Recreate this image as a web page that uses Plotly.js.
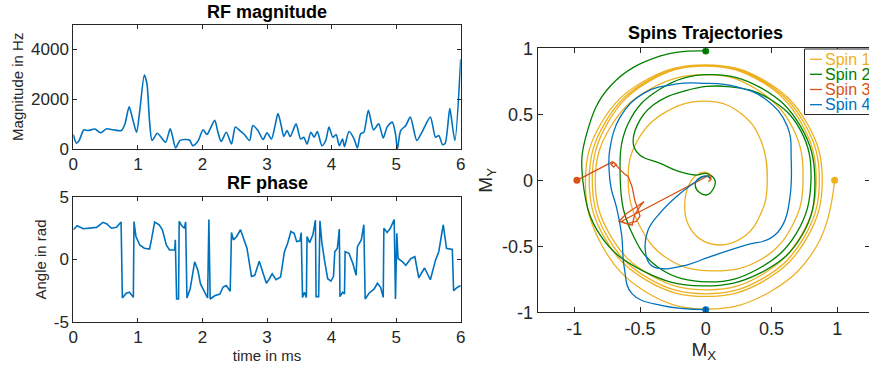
<!DOCTYPE html>
<html>
<head>
<meta charset="utf-8">
<script src="https://cdn.plot.ly/plotly-3.0.1.min.js"></script>
<style>
  html, body { margin: 0; padding: 0; overflow: hidden; background: #fff; }
  #chart { width: 900px; height: 371px; }
</style>
</head>
<body>
<div id="chart"></div>
<script>
// ---- RF pulse: magnitude (Hz) over time (ms) ----
const magT = [0, 0.05, 0.09, 0.165, 0.23, 0.335, 0.42, 0.515, 0.62, 0.745, 0.8, 0.865, 0.925, 0.98, 1.03, 1.1, 1.14, 1.18, 1.22, 1.3,
  1.36, 1.43, 1.5, 1.54, 1.585, 1.65, 1.725, 1.8, 1.85, 1.93, 2.01, 2.07, 2.12, 2.19, 2.24, 2.29, 2.37, 2.45, 2.51, 2.58,
  2.65, 2.73, 2.78, 2.86, 2.94, 3.0, 3.07, 3.12, 3.17, 3.22, 3.26, 3.31, 3.36, 3.45, 3.52, 3.57, 3.62, 3.68, 3.73, 3.78,
  3.85, 3.91, 3.96, 4.02, 4.07, 4.12, 4.17, 4.2, 4.27, 4.35, 4.4, 4.45, 4.5, 4.57, 4.65, 4.73, 4.8, 4.86, 4.94, 4.99,
  5.02, 5.07, 5.15, 5.22, 5.32, 5.4, 5.53, 5.61, 5.66, 5.72, 5.76, 5.83, 5.85, 5.91, 6.0];
const magHz = [580, 230, 340, 770, 740, 800, 650, 810, 770, 740, 1010, 1690, 1150, 675, 1550, 2970, 2630, 1150, 340, 630,
  470, 270, 810, 470, 40, 340, 380, 360, 135, 310, 770, 580, 810, 1150, 675, 300, 675, 200, 880, 740,
  580, 340, 945, 740, 380, 650, 400, 880, 1420, 945, 500, 740, 500, 1010, 400, 470, 200, 675, 470, 700,
  135, 340, 880, 470, 580, 135, 400, 95, 700, 400, 40, 610, 675, 1550, 770, 1010, 445, 880, 1080, 610,
  0, 740, 945, 1280, 340, 675, 1280, 470, 540, 175, 230, 1620, 1350, 340, 3600];

// ---- RF pulse: phase (rad) over time (ms) ----
const phT = [0, 0.06, 0.155, 0.26, 0.36, 0.46, 0.52, 0.59, 0.67, 0.74, 0.76, 0.82, 0.87, 0.93, 0.94, 0.97, 1.03, 1.1, 1.18, 1.21,
  1.26, 1.33, 1.38, 1.44, 1.49, 1.57, 1.58, 1.6, 1.63, 1.64, 1.68, 1.72, 1.74, 1.76, 1.81, 1.88, 1.93, 1.97, 2.03, 2.08,
  2.1, 2.12, 2.19, 2.27, 2.32, 2.37, 2.43, 2.45, 2.48, 2.53, 2.59, 2.65, 2.69, 2.76, 2.81, 2.88, 2.94, 2.99, 3.03, 3.08,
  3.14, 3.21, 3.27, 3.32, 3.37, 3.42, 3.46, 3.51, 3.53, 3.55, 3.58, 3.61, 3.62, 3.66, 3.71, 3.75, 3.76, 3.8, 3.82, 3.85,
  3.89, 3.94, 3.99, 4.03, 4.05, 4.09, 4.12, 4.13, 4.17, 4.2, 4.21, 4.27, 4.33, 4.38, 4.4, 4.46, 4.5, 4.52, 4.58, 4.66,
  4.71, 4.76, 4.8, 4.81, 4.86, 4.91, 4.97, 4.99, 5.01, 5.03, 5.1, 5.15, 5.23, 5.29, 5.35, 5.44, 5.53, 5.61, 5.66, 5.73,
  5.78, 5.87, 5.89, 5.95, 6.0];
const phRad = [2.38, 2.7, 2.46, 2.5, 2.57, 2.97, 2.84, 2.5, 2.57, 3.0, -3.08, -2.7, -2.62, -3.03, 3.03, 1.84, 1.16, 0.9, 0.84, 1.57,
  3.0, 2.78, 2.38, 1.16, 0.76, 0.76, 1.57, -3.16, -3.16, 3.05, 2.7, 2.5, 3.0, -3.08, -2.35, -0.19, -0.86, -1.95, -2.5, -3.08,
  3.19, -3.16, -2.9, -2.76, -2.2, -2.08, -2.54, 2.16, 1.57, 1.84, 2.38, 1.57, 0.9, -1.35, -1.27, -0.14, -1.14, -1.9, -1.6, -1.14,
  -1.62, -1.4, 0.62, 1.3, 2.24, 2.1, 1.43, 1.49, 2.16, -3.03, -2.62, -3.03, 1.84, 1.35, 1.97, 3.14, -2.97, -2.97, 3.1, 1.35,
  -0.05, -1.54, -1.73, -1.35, 0.62, 0.9, 2.43, -2.97, -2.62, -2.76, 0.62, 0.49, -0.32, -1.27, 1.03, 1.57, 2.78, -3.16, -2.7, -2.35,
  -1.9, -2.22, -3.03, 2.5, 2.16, 2.5, 3.19, -3.16, 2.1, 0.08, -0.19, -0.46, 0.08, 0.22, -1.46, -0.68, -1.62, -0.05, 0.62, 2.78,
  0.9, 0.81, -2.49, -2.22, -2.08];

// ---- Transverse magnetisation paths (Mx, My) of the four spins ----
// Spin 1: clockwise spiral starting on +Mx
const spin1X = [
  0.98, 0.849, 0.49, 0.0, -0.458, -0.792, -0.915, -0.792, -0.458, 0.0, 0.443, 0.767,
  0.886, 0.767, 0.443, 0.0, -0.443, -0.767, -0.886, -0.767, -0.443, 0.0, 0.432, 0.748,
  0.864, 0.748, 0.432, 0.0, -0.432, -0.747, -0.863, -0.747, -0.432, 0.0, 0.42, 0.727,
  0.84, 0.727, 0.42, 0.02, -0.42, -0.727, -0.84, -0.727, -0.42, 0.02, 0.38, 0.66,
  0.74, 0.66, 0.42, 0.05, -0.28, -0.5, -0.59, -0.52, -0.3, 0.0, 0.25, 0.42,
  0.466, 0.42, 0.3, 0.11, -0.05, -0.14, -0.16, -0.13, -0.07, 0.0, 0.04, 0.03];
const spin1Y = [
  0.0, -0.488, -0.844, -0.975, -0.844, -0.488, 0.0, 0.438, 0.758, 0.875, 0.758, 0.438,
  0.0, -0.44, -0.762, -0.88, -0.762, -0.44, 0.0, 0.435, 0.753, 0.87, 0.753, 0.435,
  0.0, -0.43, -0.745, -0.86, -0.745, -0.43, 0.0, 0.433, 0.749, 0.865, 0.749, 0.433,
  0.0, -0.415, -0.719, -0.83, -0.719, -0.415, 0.0, 0.4, 0.693, 0.8, 0.693, 0.4,
  0.0, -0.34, -0.6, -0.686, -0.6, -0.35, 0.0, 0.3, 0.52, 0.6, 0.52, 0.3,
  -0.05, -0.25, -0.42, -0.49, -0.44, -0.32, -0.18, -0.04, 0.04, 0.06, 0.03, -0.01];

// Spin 2: counter-clockwise spiral starting on +My
const spin2X = [0.0, -0.35, -0.72, -0.905, -0.935, -0.8, -0.47, -0.03, 0.42, 0.73, 0.83,
  0.72, 0.42, 0.02, -0.35, -0.59, -0.65, -0.57, -0.36, 0.02, 0.4, 0.69, 0.8,
  0.72, 0.48, 0.17, -0.15, -0.4, -0.52, -0.55, -0.5, -0.35, -0.2, -0.08,
  0.01, 0.07, 0.06, 0.01, -0.05, -0.08, -0.06, 0.01, 0.03];
const spin2Y = [0.98, 0.94, 0.72, 0.355, 0.0, -0.42, -0.69, -0.8, -0.7, -0.42, 0.0,
  0.41, 0.7, 0.8, 0.69, 0.43, 0.0, -0.38, -0.66, -0.77, -0.67, -0.4, 0.0,
  0.38, 0.62, 0.71, 0.68, 0.57, 0.42, 0.27, 0.19, 0.13, 0.065, 0.04,
  0.05, 0.0, -0.06, -0.11, -0.09, -0.04, 0.01, 0.03, 0.02];

// Spin 3: starts on -Mx, knots up and heads straight to the centre
const spin3X = [-0.98, -0.74, -0.71, -0.68, -0.7, -0.72, -0.7, -0.66, -0.62, -0.59, -0.56, -0.54, -0.52, -0.5, -0.525, -0.6, -0.66,
  -0.6, -0.525, -0.47, -0.5, -0.54, -0.56, -0.6, -0.64, -0.3, 0.0, 0.03, 0.04, 0.02];
const spin3Y = [0.0, 0.12, 0.14, 0.12, 0.1, 0.12, 0.135, 0.09, 0.05, 0.03, -0.05, -0.15, -0.22, -0.27, -0.31, -0.33, -0.31,
  -0.25, -0.2, -0.16, -0.2, -0.26, -0.34, -0.33, -0.31, -0.13, 0.03, 0.04, 0.01, -0.01];

// Spin 4: starts on -My
const spin4X = [0.0, -0.33, -0.56, -0.62, -0.64, -0.68, -0.72, -0.735, -0.73, -0.65, -0.47, -0.22, -0.02, 0.23, 0.46, 0.62, 0.65,
  0.64, 0.59, 0.49, 0.31, 0.03, -0.14, -0.32, -0.42, -0.46, -0.44, -0.35, -0.22, -0.09, -0.02, 0.02, 0.03];
const spin4Y = [-0.98, -0.95, -0.86, -0.66, -0.41, -0.2, -0.06, 0.08, 0.23, 0.48, 0.66, 0.73, 0.735, 0.71, 0.61, 0.41, 0.15,
  -0.13, -0.33, -0.44, -0.49, -0.58, -0.64, -0.67, -0.64, -0.53, -0.38, -0.25, -0.12, -0.02, 0.03, 0.03, 0.01];

const spinNames = ['Spin 1', 'Spin 2', 'Spin 3', 'Spin 4'];
const spinColors = ['#EDB120', '#008000', '#D95319', '#0072BD'];

// tick labels (plain hyphen minus)
const tTicks = [0, 1, 2, 3, 4, 5, 6];
const magTicks = [0, 2000, 4000];
const phTicks = [-5, 0, 5];
const phTickText = ['-5', '0', '5'];
const mTicks = [-1, -0.5, 0, 0.5, 1];
const mTickText = ['-1', '-0.5', '0', '0.5', '1'];

// ---- layout geometry (page pixels -> paper fractions) ----
const W = 900, H = 371;
const fx = px => px / W;
const fy = py => 1 - py / H;

const FONT = 'Liberation Sans, Arial, Helvetica, sans-serif';
const AX = '#262626';
const BLUE = '#0072BD';

function axisStyle(extra) {
  return Object.assign({
    showline: true, mirror: 'ticks', linecolor: AX, linewidth: 1,
    ticks: 'inside', ticklen: 4, tickwidth: 1, tickcolor: AX,
    showgrid: false, zeroline: false, fixedrange: true,
    tickfont: { family: FONT, size: 17, color: AX }
  }, extra);
}

const traces = [
  { x: magT, y: magHz, xaxis: 'x', yaxis: 'y', mode: 'lines', showlegend: false,
    line: { color: BLUE, width: 1.6, shape: 'spline', smoothing: 0.7 } },
  { x: phT, y: phRad, xaxis: 'x2', yaxis: 'y2', mode: 'lines', showlegend: false,
    line: { color: BLUE, width: 1.6 } }
];

const spinX = [spin1X, spin2X, spin3X, spin4X];
const spinY = [spin1Y, spin2Y, spin3Y, spin4Y];
for (let i = 0; i < 4; i++) {
  traces.push({
    x: spinX[i], y: spinY[i], xaxis: 'x3', yaxis: 'y3', mode: 'lines', name: spinNames[i], showlegend: false,
    line: { color: spinColors[i], width: 1.3, shape: i === 2 ? 'linear' : 'spline', smoothing: 1.2 }
  });
}
// starting point of each spin
for (let i = 0; i < 4; i++) {
  traces.push({
    x: [spinX[i][0]], y: [spinY[i][0]], xaxis: 'x3', yaxis: 'y3', mode: 'markers', showlegend: false,
    marker: { color: spinColors[i], size: 7 }
  });
}

const layout = {
  width: W, height: H,
  margin: { l: 0, r: 0, t: 0, b: 0 },
  paper_bgcolor: '#fff', plot_bgcolor: '#fff',
  font: { family: FONT, color: AX },
  showlegend: false,
  xaxis: axisStyle({ domain: [fx(73.3), fx(460.7)], range: [0, 6], anchor: 'y', tickvals: tTicks }),
  yaxis: axisStyle({ domain: [fy(149), fy(24.5)], range: [0, 5000], anchor: 'x', tickvals: magTicks,
    title: { text: 'Magnitude in Hz', font: { family: FONT, size: 15, color: AX }, standoff: 3 } }),
  xaxis2: axisStyle({ domain: [fx(73.3), fx(460.7)], range: [0, 6], anchor: 'y2', tickvals: tTicks,
    title: { text: 'time in ms', font: { family: FONT, size: 15, color: AX }, standoff: 1 } }),
  yaxis2: axisStyle({ domain: [fy(322), fy(197)], range: [-5, 5], anchor: 'x2', tickvals: phTicks, ticktext: phTickText,
    title: { text: 'Angle in rad', font: { family: FONT, size: 15, color: AX }, standoff: 3 } }),
  xaxis3: axisStyle({ domain: [fx(537.7), fx(870)], range: [-1.278, 1.249], anchor: 'y3', tickvals: mTicks, ticktext: mTickText,
    ticklen: 5, tickfont: { family: FONT, size: 18, color: AX },
    title: { text: 'M<sub>X</sub>', font: { family: FONT, size: 19, color: AX }, standoff: 3 } }),
  yaxis3: axisStyle({ domain: [fy(312.3), fy(48.3)], range: [-1, 1], anchor: 'x3', tickvals: mTicks, ticktext: mTickText,
    ticklen: 5, tickfont: { family: FONT, size: 18, color: AX },
    title: { text: 'M<sub>Y</sub>', font: { family: FONT, size: 19, color: AX }, standoff: 4 } }),
  shapes: [
    { type: 'rect', xref: 'paper', yref: 'paper', x0: fx(804.5), x1: fx(899), y0: fy(114.5), y1: fy(49),
      line: { color: AX, width: 1 }, fillcolor: '#fff', layer: 'above' }
  ],
  annotations: [
    { text: '<b>RF magnitude</b>', xref: 'paper', yref: 'paper', x: fx(267), y: fy(11.5), xanchor: 'center', yanchor: 'middle',
      showarrow: false, font: { family: FONT, size: 18, color: '#000' } },
    { text: '<b>RF phase</b>', xref: 'paper', yref: 'paper', x: fx(267), y: fy(182.5), xanchor: 'center', yanchor: 'middle',
      showarrow: false, font: { family: FONT, size: 18, color: '#000' } },
    { text: '<b>Spins Trajectories</b>', xref: 'paper', yref: 'paper', x: fx(705), y: fy(33), xanchor: 'center', yanchor: 'middle',
      showarrow: false, font: { family: FONT, size: 18, color: '#000' } }
  ]
};

// legend rows: a short line token followed by the coloured spin name
const legendRowY = [59.3, 74.3, 89.5, 104.7];
for (let i = 0; i < 4; i++) {
  layout.shapes.push({
    type: 'line', xref: 'paper', yref: 'paper', x0: fx(810), x1: fx(822), y0: fy(legendRowY[i]), y1: fy(legendRowY[i]),
    line: { color: spinColors[i], width: 1.3 }, layer: 'above'
  });
  layout.annotations.push({
    text: spinNames[i], xref: 'paper', yref: 'paper', x: fx(823), y: fy(legendRowY[i]),
    xanchor: 'left', yanchor: 'middle', showarrow: false,
    font: { family: FONT, size: 16, color: spinColors[i] }
  });
}

Plotly.newPlot('chart', traces, layout, { staticPlot: true, displayModeBar: false });
</script>
</body>
</html>
